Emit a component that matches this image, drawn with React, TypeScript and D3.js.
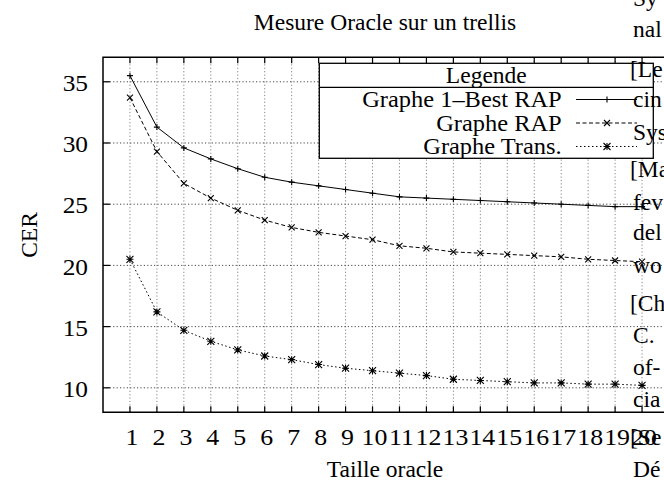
import { useMemo } from "react";
import * as d3 from "d3";

// data
const tailles = d3.range(1, 21);
const bestRap = [35.5, 31.3, 29.6, 28.7, 27.9, 27.2, 26.8, 26.5, 26.2, 25.9, 25.6, 25.5, 25.4, 25.3, 25.2, 25.1, 25.0, 24.9, 24.8, 24.8];
const grapheRap = [33.7, 29.3, 26.7, 25.5, 24.5, 23.7, 23.1, 22.7, 22.4, 22.1, 21.6, 21.4, 21.1, 21.0, 20.9, 20.8, 20.7, 20.5, 20.4, 20.3];
const grapheTrans = [20.5, 16.2, 14.7, 13.8, 13.1, 12.6, 12.3, 11.9, 11.6, 11.4, 11.2, 11.0, 10.7, 10.6, 10.5, 10.4, 10.4, 10.3, 10.3, 10.2];
const yTicks = [10, 15, 20, 25, 30, 35];
const seriesNames = ["Graphe 1\u2013Best RAP", "Graphe RAP", "Graphe Trans."];

// bits of the surrounding page that sit over the figure
const pageLines = [
  { text: "Sy", y: 6 },
  { text: "nal", y: 37 },
  { text: "[Le", y: 77 },
  { text: "cin", y: 107 },
  { text: "Sys", y: 140 },
  { text: "[Ma", y: 177 },
  { text: "fev", y: 210 },
  { text: "del", y: 240 },
  { text: "wo", y: 273 },
  { text: "[Ch", y: 311 },
  { text: "C. ", y: 343 },
  { text: "of-", y: 375 },
  { text: "cia", y: 407 },
  { text: "[Se", y: 445 },
  { text: "D\u00e9", y: 477 },
];

const W = 664;
const H = 481;
const FONT = "'Liberation Serif', 'Times New Roman', serif";
const FS = 23.5;

const marker = (kind, x, y, s = 3) => {
  const plus = `M${x - s},${y}H${x + s}M${x},${y - s}V${y + s}`;
  const cross = `M${x - s},${y - s}L${x + s},${y + s}M${x - s},${y + s}L${x + s},${y - s}`;
  if (kind === "plus") return plus;
  if (kind === "cross") return cross;
  return plus + cross;
};

export default function App() {
  const MARGIN = { top: 57.3, right: -5, bottom: 68.7, left: 103 };
  const x = useMemo(() => d3.scaleLinear().domain([0, 21]).range([MARGIN.left, W - MARGIN.right]), []);
  const y = useMemo(() => d3.scaleLinear().domain([8, 37]).range([H - MARGIN.bottom, MARGIN.top]), []);

  const series = [
    { name: seriesNames[0], values: bestRap, dash: null, kind: "plus" },
    { name: seriesNames[1], values: grapheRap, dash: "4,2.5", kind: "cross" },
    { name: seriesNames[2], values: grapheTrans, dash: "1.5,2.5", kind: "star" },
  ];

  const line = d3
    .line<number>()
    .x((_, i) => x(tailles[i]))
    .y((d) => y(d));

  const x0 = x(0);
  const x1 = x(21);
  const yTop = y(37);
  const yBot = y(8);

  // legend box
  const lg = { left: 319.3, right: 653.3, top: 63.3, sep: 87.3, bottom: 158.3 };
  const rowY = [99.5, 123, 146.5];

  return (
    <svg width={W} height={H} style={{ position: "absolute", left: 0, top: 0, background: "#fff" }} fontFamily={FONT}>
      <defs>
        <clipPath id="plot">
          <rect x={x0} y={yTop} width={x1 - x0} height={yBot - yTop} />
        </clipPath>
      </defs>

      <text x={385} y={30} textAnchor="middle" fontSize={FS}>
        Mesure Oracle sur un trellis
      </text>

      {/* grid */}
      <g strokeWidth={0.9} strokeDasharray="1.2,2.2">
        {tailles.map((t) => (
          <line key={t} x1={x(t)} x2={x(t)} y1={yBot} y2={yTop} stroke="#777" />
        ))}
        {yTicks.map((v) => (
          <line key={v} x1={x0} x2={x1} y1={y(v)} y2={y(v)} stroke="#333" />
        ))}
      </g>

      {/* ticks */}
      <g stroke="#000" strokeWidth={1.2}>
        {tailles.map((t) => (
          <g key={t}>
            <line x1={x(t)} x2={x(t)} y1={yBot} y2={yBot - 6} />
            <line x1={x(t)} x2={x(t)} y1={yTop} y2={yTop + 6} />
          </g>
        ))}
        {yTicks.map((v) => (
          <line key={v} x1={x0} x2={x0 + 7} y1={y(v)} y2={y(v)} />
        ))}
      </g>

      {/* curves */}
      <g clipPath="url(#plot)">
        {series.map((s) => (
          <g key={s.name}>
            <path d={line(s.values)} fill="none" stroke="#000" strokeWidth={1} strokeDasharray={s.dash} />
            <path
              d={s.values.map((v, i) => marker(s.kind, x(tailles[i]), y(v), s.kind === "star" ? 3.5 : 3)).join("")}
              stroke="#000"
              strokeWidth={1.1}
              fill="none"
            />
          </g>
        ))}
      </g>

      {/* frame */}
      <path d={`M${x1},${yTop}H${x0}V${yBot}H${x1}`} fill="none" stroke="#000" strokeWidth={1.5} />

      {/* axis labels */}
      {yTicks.map((v) => (
        <text key={v} transform={`translate(88,${y(v) + 1}) scale(1.08,1)`} textAnchor="end" dominantBaseline="central" fontSize={FS}>
          {v}
        </text>
      ))}
      {tailles.map((t) => (
        <text key={t} transform={`translate(${x(t) + 2},445) scale(1.1,1)`} textAnchor="middle" fontSize={FS}>
          {t}
        </text>
      ))}
      <text x={385} y={477} textAnchor="middle" fontSize={FS}>
        Taille oracle
      </text>
      <text transform="translate(37,235) rotate(-90)" textAnchor="middle" fontSize={FS}>
        CER
      </text>

      {/* legend */}
      <g>
        <rect x={lg.left} y={lg.top} width={lg.right - lg.left} height={lg.bottom - lg.top} fill="#fff" stroke="#000" strokeWidth={1.3} />
        <line x1={lg.left} x2={lg.right} y1={lg.sep} y2={lg.sep} stroke="#000" strokeWidth={1.3} />
        <text x={(lg.left + lg.right) / 2} y={83} textAnchor="middle" fontSize={FS}>
          Legende
        </text>
        {series.map((s, i) => (
          <g key={s.name}>
            <text transform={`translate(561.7,${rowY[i] + 7.5}) scale(1.04,1)`} textAnchor="end" fontSize={FS}>
              {s.name}
            </text>
            <line x1={576} x2={637} y1={rowY[i]} y2={rowY[i]} stroke="#000" strokeWidth={1} strokeDasharray={s.dash} />
            <path d={marker(s.kind, 607, rowY[i], s.kind === "star" ? 3.5 : 3)} stroke="#000" strokeWidth={1.1} />
          </g>
        ))}
      </g>

      {/* page text over the figure */}
      {pageLines.map((l) => (
        <text key={l.text + l.y} x={l.text.startsWith("[") ? 630 : 633} y={l.y} fontSize={FS}>
          {l.text}
        </text>
      ))}
    </svg>
  );
}
